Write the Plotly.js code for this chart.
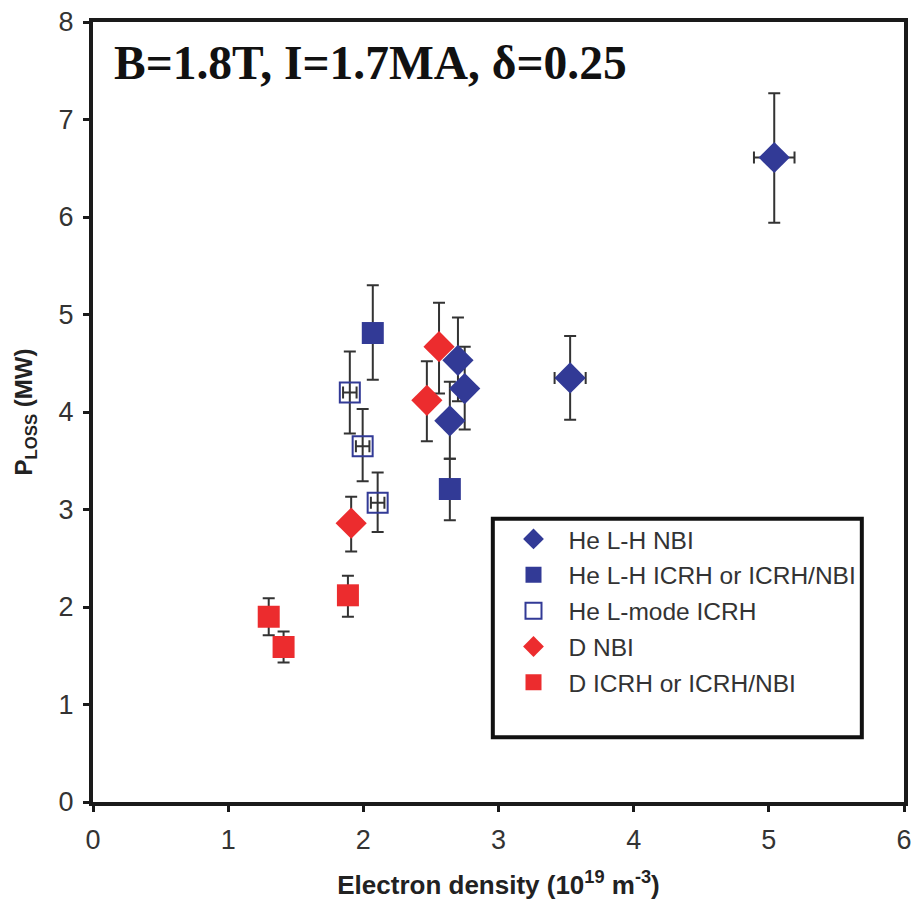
<!DOCTYPE html>
<html>
<head>
<meta charset="utf-8">
<script src="https://cdn.plot.ly/plotly-3.0.1.min.js"></script>
<style>html,body{margin:0;padding:0;background:#fff;}#chart{width:911px;height:909px;}</style>
</head>
<body>
<div id="chart"></div>
<script>
// ---- data ----
const seriesNames = ["He L-H NBI", "He L-H ICRH or ICRH/NBI", "He L-mode ICRH", "D NBI", "D ICRH or ICRH/NBI"];

const heNbiX = [2.70, 2.75, 2.64, 3.53, 5.04];
const heNbiY = [4.53, 4.24, 3.91, 4.35, 6.61];
const heNbiErrPlus = [0.44, 0.43, 0.40, 0.43, 0.66];
const heNbiErrMinus = [0.42, 0.42, 0.39, 0.43, 0.67];
const heNbiErrX = [0, 0, 0, 0.115, 0.15];

const heIcrhX = [2.07, 2.64];
const heIcrhY = [4.81, 3.21];
const heIcrhErrPlus = [0.49, 0.31];
const heIcrhErrMinus = [0.48, 0.32];

const heLmodeX = [1.90, 1.995, 2.106];
const heLmodeY = [4.20, 3.65, 3.07];
const heLmodeErrPlus = [0.42, 0.38, 0.31];
const heLmodeErrMinus = [0.42, 0.36, 0.30];
const heLmodeErrX = [0.05, 0.05, 0.05];

const dNbiX = [2.56, 2.47, 1.91];
const dNbiY = [4.67, 4.12, 2.86];
const dNbiErrPlus = [0.45, 0.40, 0.27];
const dNbiErrMinus = [0.48, 0.42, 0.29];

const dIcrhX = [1.30, 1.41, 1.886];
const dIcrhY = [1.90, 1.59, 2.12];
const dIcrhErrPlus = [0.19, 0.16, 0.20];
const dIcrhErrMinus = [0.19, 0.16, 0.22];

const xTicks = [0, 1, 2, 3, 4, 5, 6];
const yTicks = [0, 1, 2, 3, 4, 5, 6, 7, 8];

// ---- styles ----
const BLUE = "#323a96";
const RED = "#ec2c2e";
const ERR = "#333333";
const errY = (p, m) => ({type: "data", symmetric: false, array: p, arrayminus: m, color: ERR, thickness: 2, width: 6});
const errX = (a) => ({type: "data", array: a, color: ERR, thickness: 2, width: 6});

const traces = [
  {name: seriesNames[4], x: dIcrhX, y: dIcrhY, mode: "markers", legendrank: 5, legendgroup: "e",
   marker: {symbol: "square", size: 22, color: RED}, error_y: errY(dIcrhErrPlus, dIcrhErrMinus)},
  {name: seriesNames[3], x: dNbiX, y: dNbiY, mode: "markers", legendrank: 4, legendgroup: "d",
   marker: {symbol: "diamond", size: 24, color: RED}, error_y: errY(dNbiErrPlus, dNbiErrMinus)},
  {name: seriesNames[2], x: heLmodeX, y: heLmodeY, mode: "markers", legendrank: 3, legendgroup: "c",
   marker: {symbol: "square-open", size: 20, color: BLUE, line: {width: 2, color: BLUE}},
   error_y: errY(heLmodeErrPlus, heLmodeErrMinus), error_x: errX(heLmodeErrX)},
  {name: seriesNames[1], x: heIcrhX, y: heIcrhY, mode: "markers", legendrank: 2, legendgroup: "b",
   marker: {symbol: "square", size: 22, color: BLUE}, error_y: errY(heIcrhErrPlus, heIcrhErrMinus)},
  {name: seriesNames[0], x: heNbiX, y: heNbiY, mode: "markers", legendrank: 1, legendgroup: "a",
   marker: {symbol: "diamond", size: 24, color: BLUE},
   error_y: errY(heNbiErrPlus, heNbiErrMinus), error_x: errX(heNbiErrX)}
];

const axisFont = {family: "Liberation Sans, Arial, sans-serif", size: 27, color: "#333"};

const layout = {
  width: 911, height: 909,
  margin: {l: 93, r: 7, t: 22, b: 107},
  paper_bgcolor: "#fff", plot_bgcolor: "#fff",
  showlegend: true,
  xaxis: {
    range: [0, 6], tickvals: xTicks, ticktext: xTicks.map(String),
    showgrid: false, zeroline: false, showline: true, linewidth: 4, linecolor: "#1a1a1a", mirror: true,
    ticks: "outside", ticklen: 6, tickwidth: 3, tickcolor: "#1a1a1a",
    tickfont: axisFont, ticklabeloverflow: "allow", ticklabelstandoff: 5,
    title: {text: "Electron density (10<sup>19</sup> m<sup>-3</sup>)", standoff: 22,
            font: {family: "Liberation Sans, Arial, sans-serif", size: 26, color: "#222", weight: "bold"}}
  },
  yaxis: {
    range: [0, 8], tickvals: yTicks, ticktext: yTicks.map(String),
    showgrid: false, zeroline: false, showline: true, linewidth: 4, linecolor: "#1a1a1a", mirror: true,
    ticks: "outside", ticklen: 6, tickwidth: 3, tickcolor: "#1a1a1a",
    tickfont: axisFont, ticklabeloverflow: "allow", ticklabelstandoff: 4,
    title: {text: "P<sub>LOSS</sub> (MW)", standoff: 20,
            font: {family: "Liberation Sans, Arial, sans-serif", size: 24, color: "#222", weight: "bold"}}
  },
  legend: {
    x: 0.500, y: 0.366, xanchor: "left", yanchor: "top",
    bgcolor: "rgba(0,0,0,0)", borderwidth: 0,
    font: {family: "Liberation Sans, Arial, sans-serif", size: 24.5, color: "#333"},
    tracegroupgap: 1, itemsizing: "trace", itemwidth: 60
  },
  shapes: [
    {type: "rect", xref: "paper", yref: "paper", x0: 0.493, x1: 0.948, y0: 0.083, y1: 0.363,
     line: {color: "#111", width: 4}, fillcolor: "rgba(0,0,0,0)"}
  ],
  annotations: [
    {text: "<b>B=1.8T, I=1.7MA, δ=0.25</b>", xref: "paper", yref: "paper", x: 0.024, y: 0.947,
     xanchor: "left", yanchor: "middle", showarrow: false,
     font: {family: "Liberation Serif, Times New Roman, serif", size: 47.5, color: "#111"}}
  ]
};

Plotly.newPlot("chart", traces, layout, {displayModeBar: false, staticPlot: true});
</script>
</body>
</html>
